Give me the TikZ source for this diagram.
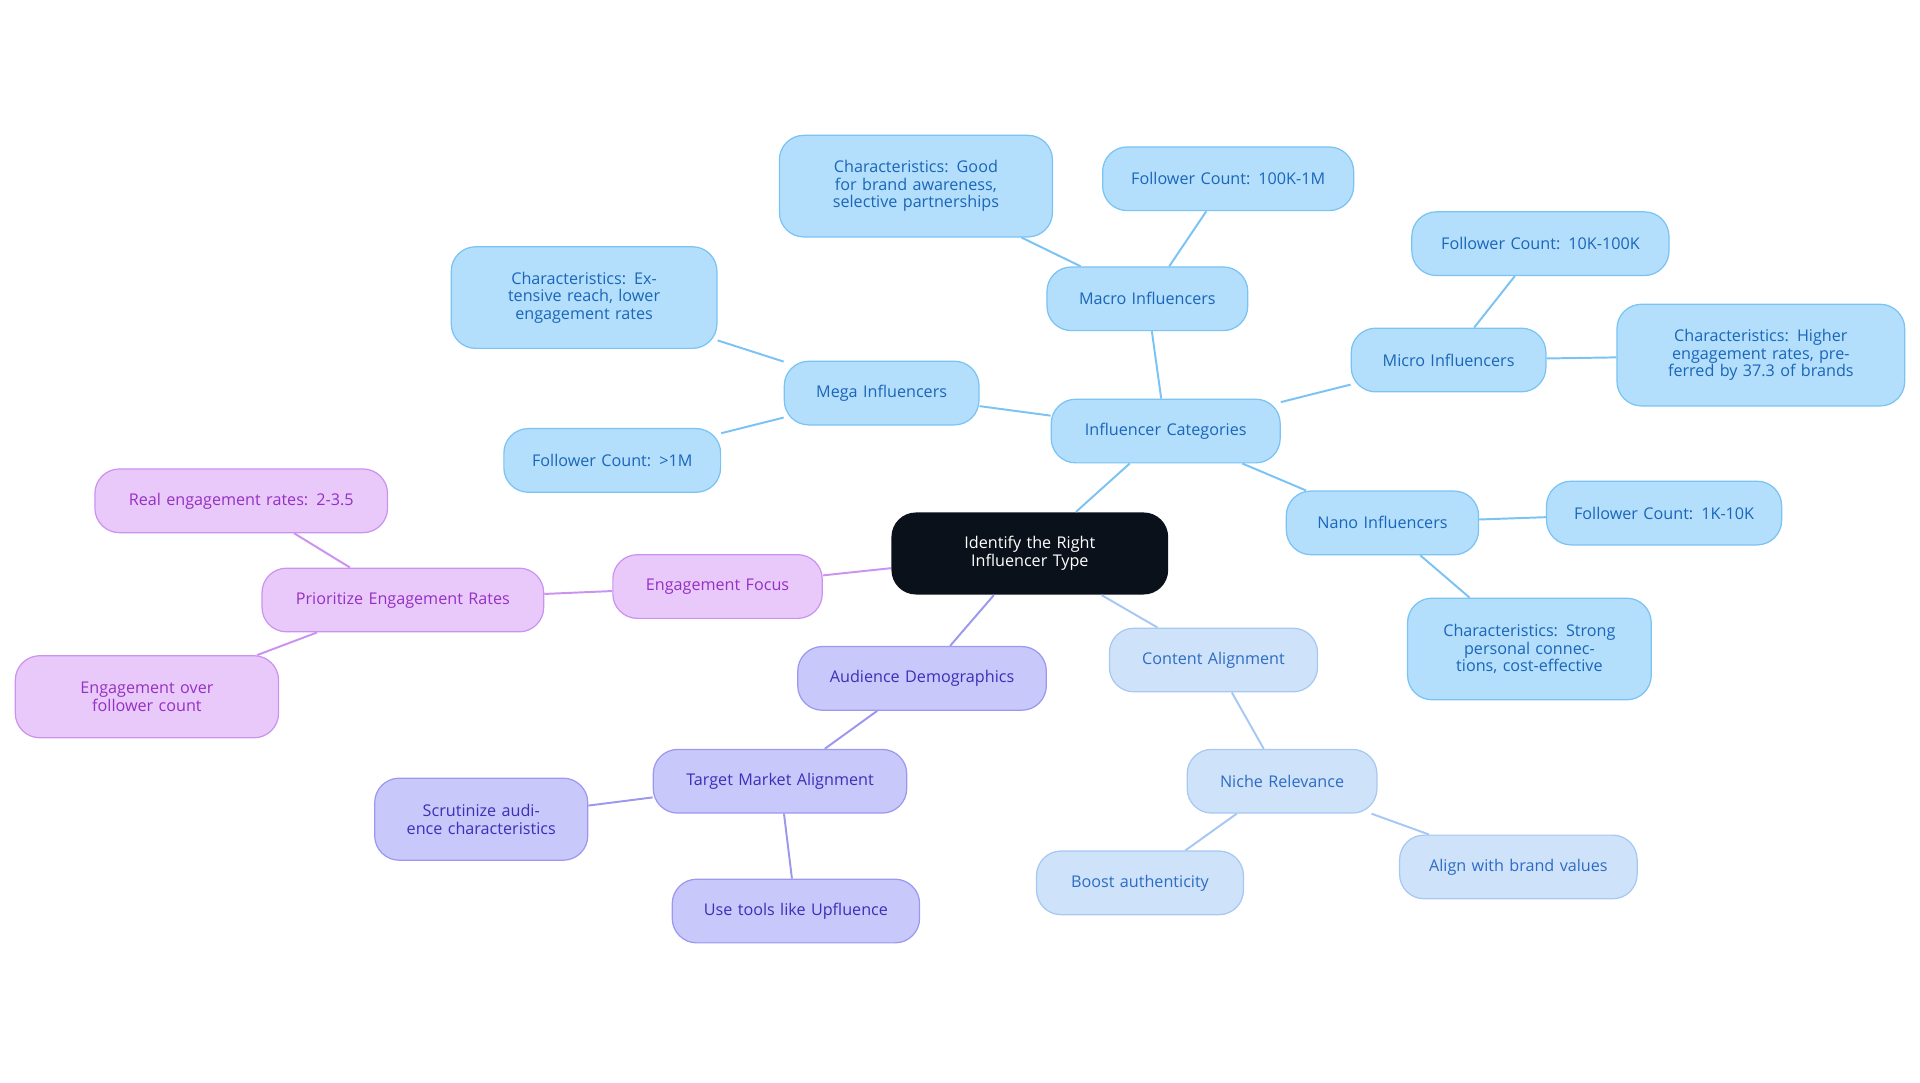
\documentclass[tikz,border=0pt]{standalone}
\usepackage{fontspec}
\setmainfont{Open Sans}
\definecolor{bfill}{HTML}{B3DEFC}\definecolor{bdraw}{HTML}{7AC3F3}\definecolor{btext}{HTML}{1A66B8}
\definecolor{cfill}{HTML}{CEE2FA}\definecolor{cdraw}{HTML}{A6C8F2}\definecolor{ctext}{HTML}{2D6CC4}
\definecolor{pfill}{HTML}{C9C8FA}\definecolor{pdraw}{HTML}{9C98F0}\definecolor{ptext}{HTML}{3E2EB8}
\definecolor{mfill}{HTML}{E9C9FA}\definecolor{mdraw}{HTML}{CC92F0}\definecolor{mtext}{HTML}{9530C4}
\definecolor{dark}{HTML}{0B111A}
\begin{document}
\begin{tikzpicture}[x=0.5pt,y=-0.5pt,
  box/.style={rounded corners=10pt,align=center,font=\fontsize{6.6}{7.2}\selectfont,inner sep=0pt,line width=0.5pt},
  bb/.style={box,fill=bfill,draw=bdraw,text=btext},
  cb/.style={box,fill=cfill,draw=cdraw,text=ctext},
  pb/.style={box,fill=pfill,draw=pdraw,text=ptext},
  mb/.style={box,fill=mfill,draw=mdraw,text=mtext},
  be/.style={draw=bdraw,line width=0.8pt},
  ce/.style={draw=cdraw,line width=0.8pt},
  pe/.style={draw=pdraw,line width=0.8pt},
  me/.style={draw=mdraw,line width=0.8pt}]
\useasboundingbox (0,0) rectangle (1568,884);
\newcommand{\nd}[7]{\node[#1,minimum width=#5*0.5pt,minimum height=#6*0.5pt,text width=#5*0.5pt-14pt] (#2) at (#3,#4) {#7};}
\nd{box,fill=dark,text=white}{c}{841}{452}{226}{67}{Identify the Right Influencer Type}
\nd{bb}{ic}{952}{352}{187}{52}{Influencer Categories}
\nd{bb}{mac}{937}{244}{164}{52}{Macro Influencers}
\nd{bb}{macf}{1003}{146}{205}{52}{Follower Count: 100K-1M}
\nd{bb}{macc}{748}{152}{223}{83}{Characteristics: Good for brand awareness, selective partnerships}
\nd{bb}{meg}{720}{321}{159}{52}{Mega Influencers}
\nd{bb}{megc}{477}{243}{217}{83}{Characteristics: Extensive reach, lower engagement rates}
\nd{bb}{megf}{500}{376}{177}{52}{Follower Count: >1M}
\nd{bb}{mic}{1183}{294}{159}{52}{Micro Influencers}
\nd{bb}{micf}{1258}{199}{210}{52}{Follower Count: 10K-100K}
\nd{bb}{micc}{1438}{290}{235}{83}{Characteristics: Higher engagement rates, preferred by 37.3 of brands}
\nd{bb}{nan}{1129}{427}{157}{52}{Nano Influencers}
\nd{bb}{nanf}{1359}{419}{192}{52}{Follower Count: 1K-10K}
\nd{bb}{nanc}{1249}{530}{199}{83}{Characteristics: Strong personal connections, cost-effective}
\nd{cb}{ca}{991}{539}{170}{52}{Content Alignment}
\nd{cb}{nr}{1047}{638}{155}{52}{Niche Relevance}
\nd{cb}{ba}{931}{721}{169}{52}{Boost authenticity}
\nd{cb}{ab}{1240}{708}{194}{52}{Align with brand values}
\nd{pb}{ad}{753}{554}{203}{52}{Audience Demographics}
\nd{pb}{tm}{637}{638}{207}{52}{Target Market Alignment}
\nd{pb}{sc}{393}{669}{174}{67}{Scrutinize audience characteristics}
\nd{pb}{ut}{650}{744}{202}{52}{Use tools like Upfluence}
\nd{mb}{ef}{586}{479}{171}{52}{Engagement Focus}
\nd{mb}{pr}{329}{490}{230}{52}{Prioritize Engagement Rates}
\nd{mb}{re}{197}{409}{239}{52}{Real engagement rates: 2-3.5}
\nd{mb}{eo}{120}{569}{215}{67}{Engagement over follower count}
\draw[be] (c)--(ic); \draw[be] (ic)--(mac); \draw[be] (mac)--(macf); \draw[be] (mac)--(macc);
\draw[be] (ic)--(meg); \draw[be] (meg)--(megc); \draw[be] (meg)--(megf);
\draw[be] (ic)--(mic); \draw[be] (mic)--(micf); \draw[be] (mic)--(micc);
\draw[be] (ic)--(nan); \draw[be] (nan)--(nanf); \draw[be] (nan)--(nanc);
\draw[ce] (c)--(ca); \draw[ce] (ca)--(nr); \draw[ce] (nr)--(ba); \draw[ce] (nr)--(ab);
\draw[pe] (c)--(ad); \draw[pe] (ad)--(tm); \draw[pe] (tm)--(sc); \draw[pe] (tm)--(ut);
\draw[me] (c)--(ef); \draw[me] (ef)--(pr); \draw[me] (pr)--(re); \draw[me] (pr)--(eo);
\end{tikzpicture}
\end{document}
